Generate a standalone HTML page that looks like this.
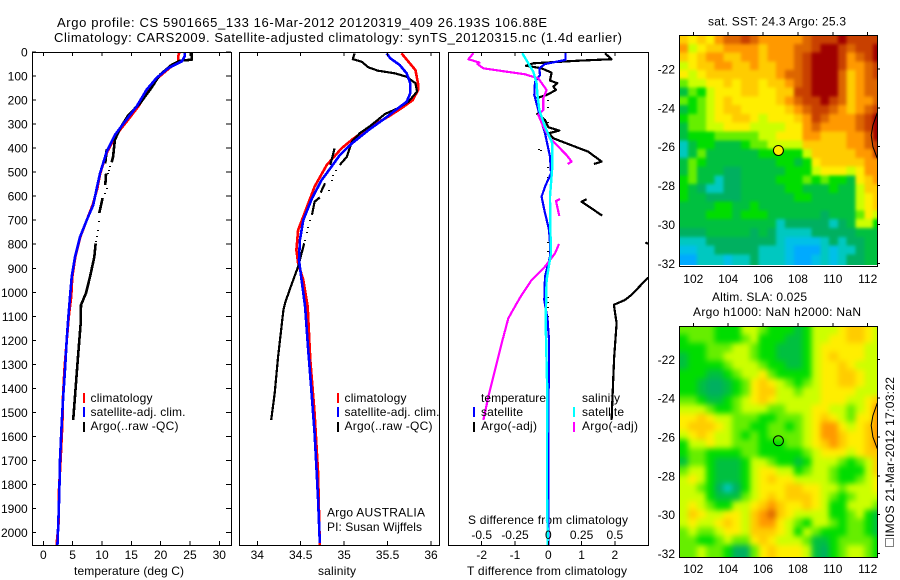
<!DOCTYPE html>
<html lang="en">
<head>
<meta charset="utf-8">
<title>Argo profile</title>
<style>
html,body{margin:0;padding:0;background:#fff;}
svg{display:block;font-family:"Liberation Sans",Arial,sans-serif;font-size:12px;fill:#000;}
text{fill:#000;}
</style>
</head>
<body>
<svg id="fig" xmlns="http://www.w3.org/2000/svg" width="900" height="580" viewBox="0 0 900 580">
<defs>
<clipPath id="clipT"><rect x="32" y="52" width="199" height="493"/></clipPath>
<clipPath id="clipS"><rect x="239" y="52" width="200" height="493"/></clipPath>
<clipPath id="clipD"><rect x="448" y="52" width="200" height="493"/></clipPath>
<clipPath id="clipM1"><rect x="679" y="35" width="198" height="230"/></clipPath>
<clipPath id="clipM2"><rect x="679" y="326" width="198" height="231"/></clipPath>
<filter id="soft1" filterUnits="userSpaceOnUse" x="640" y="0" width="260" height="300" color-interpolation-filters="sRGB"><feGaussianBlur stdDeviation="1.6"/></filter>
<filter id="soft2" filterUnits="userSpaceOnUse" x="640" y="290" width="260" height="290" color-interpolation-filters="sRGB"><feGaussianBlur stdDeviation="3"/></filter>
</defs>
<text x="57" y="27" font-size="13" textLength="490" lengthAdjust="spacing">Argo profile: CS 5901665_133 16-Mar-2012 20120319_409 26.193S 106.88E</text>
<text x="54" y="42" font-size="13" textLength="568" lengthAdjust="spacing">Climatology: CARS2009. Satellite-adjusted climatology: synTS_20120315.nc (1.4d earlier)</text>

<text x="74" y="575" textLength="110" lengthAdjust="spacing">temperature (deg C)</text>
<text x="318" y="575" textLength="38" lengthAdjust="spacing">salinity</text>
<text x="467" y="575" textLength="160" lengthAdjust="spacing">T difference from climatology</text>
<text x="468" y="524" textLength="160" lengthAdjust="spacing">S difference from climatology</text>

<text x="327" y="516.5" textLength="98" lengthAdjust="spacing">Argo AUSTRALIA</text>
<text x="327" y="531" textLength="95" lengthAdjust="spacing">PI: Susan Wijffels</text>

<text x="708" y="25.5" textLength="138" lengthAdjust="spacing">sat. SST: 24.3 Argo: 25.3</text>
<text x="712" y="301" textLength="95" lengthAdjust="spacing">Altim. SLA: 0.025</text>
<text x="693" y="316" textLength="168" lengthAdjust="spacing">Argo h1000: NaN h2000: NaN</text>

<g>
<rect x="885.5" y="538.5" width="8" height="8" fill="none" stroke="#000" stroke-width="1" stroke-dasharray="1 1"/>
<text transform="translate(894,537) rotate(-90)" textLength="160" lengthAdjust="spacing">IMOS 21-Mar-2012 17:03:22</text>
</g>

<g id="panels"></g>

<g>
<rect x="83" y="393" width="2" height="10" fill="#f00"/>
<rect x="83" y="407" width="2" height="10" fill="#00f"/>
<rect x="83" y="422" width="2" height="10" fill="#000"/>
<text x="90.5" y="402" textLength="62" lengthAdjust="spacing">climatology</text>
<text x="90.5" y="416" textLength="95" lengthAdjust="spacing">satellite-adj. clim.</text>
<text x="90.5" y="430" textLength="88" lengthAdjust="spacing">Argo(..raw -QC)</text>
</g>
<g>
<rect x="337" y="393" width="2" height="10" fill="#f00"/>
<rect x="337" y="407" width="2" height="10" fill="#00f"/>
<rect x="337" y="422" width="2" height="10" fill="#000"/>
<text x="344.5" y="402" textLength="62" lengthAdjust="spacing">climatology</text>
<text x="344.5" y="416" textLength="95" lengthAdjust="spacing">satellite-adj. clim.</text>
<text x="344.5" y="430" textLength="88" lengthAdjust="spacing">Argo(..raw -QC)</text>
</g>
<g>
<rect x="473" y="407" width="2" height="10" fill="#00f"/>
<rect x="473" y="422" width="2" height="10" fill="#000"/>
<rect x="573" y="407" width="2" height="10" fill="#0ff"/>
<rect x="573" y="422" width="2" height="10" fill="#f0f"/>
<text x="481" y="402" textLength="65" lengthAdjust="spacing">temperature</text>
<text x="481" y="416" textLength="42" lengthAdjust="spacing">satellite</text>
<text x="481" y="430" textLength="56" lengthAdjust="spacing">Argo(-adj)</text>
<text x="582" y="402" textLength="38" lengthAdjust="spacing">salinity</text>
<text x="582" y="416" textLength="42" lengthAdjust="spacing">satellite</text>
<text x="582" y="430" textLength="56" lengthAdjust="spacing">Argo(-adj)</text>
</g>
</svg>
<script>
// ---------- Tick labels ----------
const depthTicks = [0,100,200,300,400,500,600,700,800,900,1000,1100,1200,1300,1400,1500,1600,1700,1800,1900,2000];
const tempTicks = [0,5,10,15,20,25,30];
const salTicks = ["34","34.5","35","35.5","36"];
const diffTTicks = [-2,-1,0,1,2];
const diffSTicks = ["-0.5","-0.25","0","0.25","0.5"];
const lonTicks = [102,104,106,108,110,112];
const latTicks = [-22,-24,-26,-28,-30,-32];

// ---------- Temperature panel ----------
const tempDepths = [0,18,39,67,108,157,227,290,345,415,505,568,637,700,770,853,936,1019,1101,1198,1323,1434,1545,1698,1836,1960,2055];
const tempClim = [23.2,23.0,23.0,21.5,19.5,18.0,16.2,14.2,12.4,10.9,9.7,9.2,8.4,7.4,6.3,5.45,4.95,4.75,4.35,4.0,3.6,3.35,3.25,2.95,2.65,2.6,2.25];
const tempSat = [24.15,24.1,23.6,21.3,19.3,17.6,15.9,13.9,12.2,10.8,9.66,9.1,8.5,7.4,6.25,5.4,4.84,4.55,4.27,3.99,3.7,3.4,3.13,2.85,2.73,2.56,2.4];
const tempArgoVals = [
 [25.3,25.3,23.3,21.9,19.9,18.2,16.5,14.5,13.1,12.2,11.9,11.66],
 [10.8,10.57],
 [10.7,10.57],
 [10.1,9.55],
 [8.93,8.7,7.96,7.28,6.43,6.37,5.97,5.57,5.1]
];
const tempArgoDepths = [
 [0,32,36,53,94,157,213,262,317,366,435,459],
 [405,463],
 [505,553],
 [608,670],
 [796,853,936,1003,1053,1128,1253,1378,1531]
];
const tempDotVals = [11.37,11.25,11.1,10.8,10.57,9.44,9.27,9.15,9.03];
const tempDotDepths = [473,491,505,567,585,702,741,766,785];

// ---------- Salinity panel ----------
const salSatDepths = [6,26,54,89,130,172,207,234,276,325,380,429,484,533,609,699,782,866,949,1060,1212,1393,1587,1726,1864,2043];
const salSat = [35.49,35.53,35.64,35.72,35.76,35.76,35.72,35.62,35.47,35.28,35.09,34.95,34.84,34.74,34.63,34.53,34.49,34.48,34.51,34.55,34.58,34.62,34.66,34.68,34.70,34.72];
const salClimDepths = [6,40,75,130,158,200,234,269,308,362,401,470,560,665,741,824,878,949,1060,1282,1503,1752,2055];
const salClim = [35.66,35.74,35.82,35.85,35.85,35.79,35.66,35.51,35.32,35.10,34.97,34.80,34.66,34.55,34.47,34.45,34.47,34.53,34.58,34.61,34.66,34.70,34.72];
const salArgoVals = [
 [35.12,35.10,35.20,35.28,35.39,35.59,35.72,35.82,35.84,35.74,35.62,35.47,35.30,35.18,35.09,35.03,34.95],
 [34.89,34.84],
 [34.78,34.73],
 [34.72,34.66,34.63],
 [34.54,34.47,34.38,34.32,34.30,34.24,34.20,34.16]
];
const salArgoDepths = [
 [6,30,40,64,78,89,103,130,165,207,234,258,308,338,373,436,470],
 [401,470],
 [546,585],
 [605,623,678],
 [796,893,982,1044,1074,1268,1420,1531]
];
const salDotVals = [34.91,34.875,34.86,34.82,34.61,34.58,34.57,34.55];
const salDotDepths = [491,512,533,574,699,727,748,782];

// ---------- Difference panel ----------
const diffTSatDepths = [5,33,50,68,96,123,179,269,338,435,505,560,602,657,740,796,851,935,1032,1115,1199,1351,1448,1642,1864,1989,2052];
const diffTSat = [0.52,0.52,-0.1,-0.27,-0.25,-0.4,-0.42,-0.25,-0.1,0.05,0.08,-0.1,-0.2,-0.12,0.02,0.05,0.05,-0.1,-0.12,-0.02,0.02,0.02,0,0.01,0.01,0,0];
const diffSSatDepths = [5,47,82,130,172,241,311,380,477,602,727,838,949,1060,1115,1240,1420,1628,1850,1989,2052];
const diffSSat = [-0.195,-0.15,-0.1125,-0.0875,-0.0825,-0.0675,-0.025,0.03,0.03,0.0125,0.015,0.02,-0.0125,-0.0175,-0.02,-0.015,-0.0075,-0.01,-0.01,-0.005,-0.005];
const diffTArgoVals = [
 [1.7,1.9,0.9,-0.45,-0.67,-0.2,0.1,0.05,0.27,0.15,0.23,-0.05,-0.38],
 [-0.35,-0.1,0,0.33,0.02,0.15,1.2,1.6,1.37],
 [1.15,1.0,1.62],
 [2.92,3.0],
 [3.0,2.5,2.3,1.97,2.05,1.98,1.95,1.9]
];
const diffTArgoDepths = [
 [5,30,36,47,57,68,86,119,130,144,158,179,193],
 [255,283,313,327,338,359,415,456,466],
 [612,623,681],
 [792,799],
 [938,1011,1032,1052,1129,1268,1365,1531]
];
const diffSArgoVals = [
 [-0.5625,-0.6,-0.5175,-0.5325,-0.4875,-0.35,-0.175,-0.075,-0.0125,-0.0375,-0.0375,-0.075,-0.0375,0.0125,0.1375,0.175,0.145],
 [0.0875,0.0575,0.0825],
 [0.08,0.05,-0.025,-0.125,-0.2,-0.2375,-0.3,-0.35,-0.4,-0.45,-0.4875]
];
const diffSArgoDepths = [
 [5,30,44,50,68,79,93,110,158,193,241,262,311,359,429,456,466],
 [612,620,682],
 [799,838,893,949,1011,1046,1108,1212,1323,1434,1531]
];
const diffDotVals = [0,0,0,0,0,0,0,0,0,0,0,0,-0.27,-0.22];
const diffDotDepths = [200,230,290,480,520,790,830,1020,1040,1060,1100,1120,405,408];

// ---------- Maps: colour level per grid cell ----------
const sstLevels = [
[9,8,9,8,10,11,11,12,11,10,10,10,10,10,11,12,12,12,13,12,12,12,12],
[10,7,8,9,9,10,10,10,10,9,10,10,10,11,11,12,13,13,12,11,12,12,13],
[9,8,9,10,10,9,9,10,10,9,10,10,10,11,12,13,13,13,12,10,11,12,13],
[7,8,9,9,10,10,9,9,10,9,9,10,10,11,12,13,13,13,12,10,10,11,12],
[8,7,8,9,9,9,9,9,9,9,9,10,11,11,12,13,13,13,11,9,10,11,12],
[6,7,7,8,8,9,8,9,9,8,9,9,10,11,12,13,13,13,11,9,10,11,11],
[4,6,5,7,8,8,8,9,9,8,8,9,9,12,12,13,13,13,11,9,10,11,11],
[6,5,6,7,8,9,8,8,8,8,8,9,10,11,12,12,13,12,11,9,10,10,11],
[4,5,6,7,8,9,9,8,8,8,8,8,9,10,11,12,12,11,10,9,10,11,12],
[5,6,6,7,8,8,9,9,8,7,8,8,8,9,10,12,11,10,10,10,11,12,13],
[4,6,6,7,7,8,8,8,7,7,7,7,8,8,10,11,10,10,10,10,11,12,13],
[4,5,5,5,6,6,6,6,6,7,7,8,8,8,10,10,9,9,9,10,10,11,13],
[2,4,5,5,4,4,4,5,6,6,7,7,7,7,9,9,9,9,9,10,10,11,12],
[2,4,6,4,4,4,4,4,4,5,5,5,5,5,7,9,9,9,9,9,10,10,12],
[4,6,5,4,4,4,4,4,4,4,4,5,5,4,5,8,9,9,9,9,9,10,10],
[4,6,4,4,4,3,3,4,4,4,4,4,5,5,5,7,8,8,8,7,8,10,10],
[5,6,4,4,2,3,3,4,4,4,4,5,5,5,6,5,6,5,5,4,8,9,10],
[5,4,3,2,2,3,3,4,4,4,4,4,5,5,4,4,4,5,4,4,7,9,9],
[5,4,4,3,3,3,3,4,4,4,4,4,4,5,5,4,4,4,4,4,7,8,9],
[4,4,4,4,5,5,4,4,5,4,4,4,4,4,4,4,4,4,4,4,7,8,9],
[4,4,4,5,5,5,4,5,5,5,4,4,4,4,4,4,3,4,4,4,6,8,7],
[4,4,4,4,4,4,4,4,4,4,4,2,3,3,3,3,3,2,3,4,7,7,5],
[3,3,3,4,4,4,4,4,3,4,3,2,2,2,2,3,3,3,3,3,4,4,4],
[2,2,2,3,3,3,3,3,3,3,3,2,1,1,1,1,2,3,2,3,3,4,4],
[1,1,2,2,3,3,3,3,3,2,2,2,1,0,0,0,2,1,2,2,3,4,4],
[0,0,2,2,2,1,2,2,3,2,2,2,1,0,0,1,2,1,2,3,3,4,4]
];
const slaLevels = [
[6,6,6,6,5,5,5,7,7,6,5,5,5,4,5,7,7,7,8,9,9,8,7],
[5,6,6,6,5,5,5,6,7,5,5,5,4,4,5,7,7,8,8,9,9,8,7],
[5,5,5,6,6,6,7,7,6,5,5,4,4,4,5,7,8,8,8,8,8,7,7],
[4,5,5,6,6,7,7,7,6,5,5,4,4,4,5,7,8,9,8,8,8,7,7],
[4,5,5,5,5,6,7,7,7,6,5,5,4,4,5,7,8,8,9,8,7,7,7],
[5,5,5,4,4,5,6,7,7,8,6,5,5,5,5,7,8,8,9,9,8,7,7],
[5,5,4,3,3,4,5,6,8,9,8,7,6,5,6,7,8,8,9,9,8,7,7],
[5,5,4,3,3,4,5,6,8,9,9,7,7,6,7,7,8,8,8,8,7,7,7],
[6,6,5,4,4,5,6,7,8,9,8,7,7,7,7,7,8,8,8,7,7,8,9],
[7,7,7,6,5,5,6,7,7,7,6,6,7,7,7,8,8,7,7,6,7,8,10],
[8,8,9,8,7,7,6,6,6,5,5,6,6,6,7,8,9,8,7,6,8,8,10],
[8,9,9,9,8,7,6,6,5,5,6,6,5,6,7,8,10,10,8,7,8,9,10],
[7,8,9,8,7,7,6,5,6,5,6,6,6,6,7,8,10,10,9,8,8,9,10],
[5,7,7,8,7,7,6,6,6,5,5,5,6,6,7,8,9,10,9,8,8,9,10],
[5,6,6,5,5,5,5,6,6,5,5,5,5,5,6,7,8,8,8,7,8,9,9],
[4,6,6,5,4,4,4,5,7,7,6,5,5,4,5,7,7,7,6,5,6,7,9],
[6,7,7,5,4,4,4,5,7,8,8,7,7,5,6,7,7,6,5,5,5,7,9],
[7,8,7,5,4,4,4,5,7,8,9,8,8,7,7,7,7,6,5,5,6,7,8],
[7,7,6,5,3,2,3,5,7,8,8,8,9,9,8,8,7,7,6,7,7,7,8],
[7,7,7,5,4,4,4,6,7,8,9,8,9,9,9,8,7,6,5,6,7,7,7],
[7,8,7,6,5,5,7,7,8,9,10,9,8,8,9,8,7,5,5,7,7,7,6],
[7,9,8,7,7,8,8,7,9,10,11,9,8,7,7,7,7,5,5,6,7,5,4],
[7,8,7,7,8,9,8,7,9,10,10,8,7,6,5,7,7,6,5,6,6,5,4],
[6,7,6,6,7,8,8,7,9,9,9,8,7,5,7,6,5,5,5,6,6,5,4],
[6,6,5,5,6,7,6,6,8,9,8,7,7,7,6,4,4,5,6,6,6,6,5],
[6,6,7,6,6,5,3,3,6,8,9,8,8,8,7,4,3,5,6,7,7,6,5]
];
const levelColors = ["#00aaff","#00c0e8","#00c8c0","#00b060","#00c040","#00dd00","#66ee00","#ccff00","#ffee00","#ffcc00","#ff9900","#dd6600","#c84000","#a00000"];
const floatLon = 106.88;
const floatLat = -26.193;
const coastLons = [112.55,112.3,112.2,112.3,112.55];
const coastLats = [-24.25,-24.9,-25.4,-26.0,-26.6];

// ---------- Axis functions ----------
const NS = "http://www.w3.org/2000/svg";
const root = document.getElementById("panels");
const yDepth = d => 52 + d * 0.2403;
const xTemp = t => 43.3 + t * 5.867;
const xSal = s => 257.3 + (s - 34) * 86.85;
const xDiffT = t => 548.3 + t * 33.3;
const xDiffS = s => 548.3 + s * 133.2;
const xLon = lon => 693.3 + (lon - 102) * 17.44;
const yLat1 = lat => 69 + (-22 - lat) * 19.43;
const yLat2 = lat => 359.3 + (-22 - lat) * 19.43;

function el(tag, attrs, parent) {
  const e = document.createElementNS(NS, tag);
  for (const k in attrs) e.setAttribute(k, attrs[k]);
  parent.appendChild(e);
  return e;
}
function tick(parent, x1, y1, x2, y2) {
  const t = el("line", {x1: x1, y1: y1, x2: x2, y2: y2, stroke: "#000", "stroke-width": 1, "shape-rendering": "crispEdges"}, parent);
  
  
}
function label(parent, x, y, str, anchor) {
  const t = el("text", {x: x, y: y, "text-anchor": anchor}, parent);
  t.textContent = str;
  
  
}
function line(parent, vals, deps, xf, color, width, name) {
  const pts = vals.map((v, i) => xf(v).toFixed(1) + "," + yDepth(deps[i]).toFixed(1)).join(" ");
  const p = el("polyline", {points: pts, fill: "none", stroke: color, "stroke-width": width, "stroke-linejoin": "round", "shape-rendering": "crispEdges"}, parent);
  
  
}
function segments(parent, valSegs, depSegs, xf, color, width, name) {
  valSegs.forEach((vals, i) => line(parent, vals, depSegs[i], xf, color, width, name));
}
function dots(parent, vals, deps, xf, name) {
  vals.forEach((v, i) => {
    const r = el("rect", {x: Math.round(xf(v)) - 1, y: Math.round(yDepth(deps[i])), width: 2, height: 1, fill: "#000"}, parent);
    
    
  });
}
function frame(parent, x, y, w, h) {
  const r = el("rect", {x: x + 0.5, y: y + 0.5, width: w, height: h, fill: "none", stroke: "#000", "stroke-width": 1, "shape-rendering": "crispEdges"}, parent);
  
  
}
function panel(name, clip) {
  const g = el("g", {}, root);
  
  
  const c = el("g", {"clip-path": "url(#" + clip + ")"}, g);
  
  
  return [g, c];
}

// ---------- Temperature ----------
const [pT, cT] = panel("temperature-panel", "clipT");
line(cT, tempClim, tempDepths, xTemp, "#f00", 2.6, "temperature-climatology-line");
segments(cT, tempArgoVals, tempArgoDepths, xTemp, "#000", 2.6, "temperature-argo-line");
dots(cT, tempDotVals, tempDotDepths, xTemp, "temperature-argo-dot");
line(cT, tempSat, tempDepths, xTemp, "#00f", 2.6, "temperature-satellite-line");
frame(pT, 32, 52, 199, 493);
depthTicks.forEach(d => {
  const y = yDepth(d);
  tick(pT, 32, y, 36, y);
  tick(pT, 231, y, 226, y);
  label(pT, 27.7, y + 4.5, String(d), "end");
});
tempTicks.forEach(t => {
  tick(pT, xTemp(t), 52, xTemp(t), 56);
  tick(pT, xTemp(t), 545, xTemp(t), 541);
  label(pT, xTemp(t), 559, String(t), "middle");
});

// ---------- Salinity ----------
const [pS, cS] = panel("salinity-panel", "clipS");
line(cS, salClim, salClimDepths, xSal, "#f00", 2.6, "salinity-climatology-line");
segments(cS, salArgoVals, salArgoDepths, xSal, "#000", 2.2, "salinity-argo-line");
dots(cS, salDotVals, salDotDepths, xSal, "salinity-argo-dot");
line(cS, salSat, salSatDepths, xSal, "#00f", 2.6, "salinity-satellite-line");
frame(pS, 239, 52, 200, 493);
salTicks.forEach(s => {
  const x = xSal(parseFloat(s));
  tick(pS, x, 52, x, 56);
  tick(pS, x, 545, x, 541);
  label(pS, x, 559, s, "middle");
});

// ---------- Differences ----------
const [pD, cD] = panel("difference-panel", "clipD");
segments(cD, diffTArgoVals, diffTArgoDepths, xDiffT, "#000", 2.2, "t-difference-argo-line");
dots(cD, diffDotVals, diffDotDepths, xDiffT, "difference-dot");
line(cD, diffTSat, diffTSatDepths, xDiffT, "#00f", 2.2, "t-difference-satellite-line");
segments(cD, diffSArgoVals, diffSArgoDepths, xDiffS, "#f0f", 2.2, "s-difference-argo-line");
line(cD, diffSSat, diffSSatDepths, xDiffS, "#0ff", 2.4, "s-difference-satellite-line");
frame(pD, 448, 52, 200, 493);
diffTTicks.forEach(t => {
  tick(pD, xDiffT(t), 52, xDiffT(t), 56);
  tick(pD, xDiffT(t), 545, xDiffT(t), 541);
  label(pD, xDiffT(t), 559, String(t), "middle");
});
diffSTicks.forEach(s => {
  label(pD, xDiffS(parseFloat(s)), 539, s, "middle");
});

// ---------- Maps ----------
function drawMap(name, clip, soft, levels, yLat, fx, fy, fh, labelY, circleFill) {
  const g = el("g", {}, root);
  
  
  const c = el("g", {"clip-path": "url(#" + clip + ")"}, g);
  
  
  const cells = el("g", {filter: "url(#" + soft + ")"}, c);
  
  
  const lon0 = 101.2, dLon = 0.505, lat0 = yLat === yLat1 ? -20.25 : -20.27, dLat = 0.4515;
  const bleed = 14;
  const lastRow = levels.length - 1;
  levels.forEach((row, r) => row.forEach((v, k) => {
    const x = xLon(lon0 + k * dLon), y = yLat(lat0 - r * dLat);
    const padL = k === 0 ? bleed : 0, padT = r === 0 ? bleed : 0;
    const padR = k === row.length - 1 ? bleed : 0, padB = r === lastRow ? bleed : 0;
    const cell = el("rect", {x: (x - padL).toFixed(2), y: (y - padT).toFixed(2), width: (dLon * 17.44 + 0.6 + padL + padR).toFixed(2), height: (dLat * 19.43 + 0.6 + padT + padB).toFixed(2), fill: levelColors[v], "shape-rendering": "crispEdges"}, cells);
    
    
  }));
  const coast = el("polyline", {points: coastLons.map((lo, i) => xLon(lo).toFixed(1) + "," + yLat(coastLats[i]).toFixed(1)).join(" "), fill: "none", stroke: "#000", "stroke-width": 1}, c);
  
  
  const m = el("circle", {cx: xLon(floatLon), cy: yLat(floatLat), r: 5, fill: circleFill, stroke: "#000", "stroke-width": 1}, c);
  
  
  frame(g, fx, fy, 198, fh);
  lonTicks.forEach(lo => {
    tick(g, xLon(lo), fy, xLon(lo), fy - 3);
    label(g, xLon(lo), labelY, String(lo), "middle");
  });
  latTicks.forEach(la => {
    tick(g, fx + 198, yLat(la), fx + 201, yLat(la));
    label(g, 675, yLat(la) + 4.5, String(la), "end");
  });
}
drawMap("sst-map", "clipM1", "soft1", sstLevels, yLat1, 679, 35, 231, 283, "#ffee00");
drawMap("sla-map", "clipM2", "soft2", slaLevels, yLat2, 679, 326, 231, 573, "none");
</script>
</body>
</html>
